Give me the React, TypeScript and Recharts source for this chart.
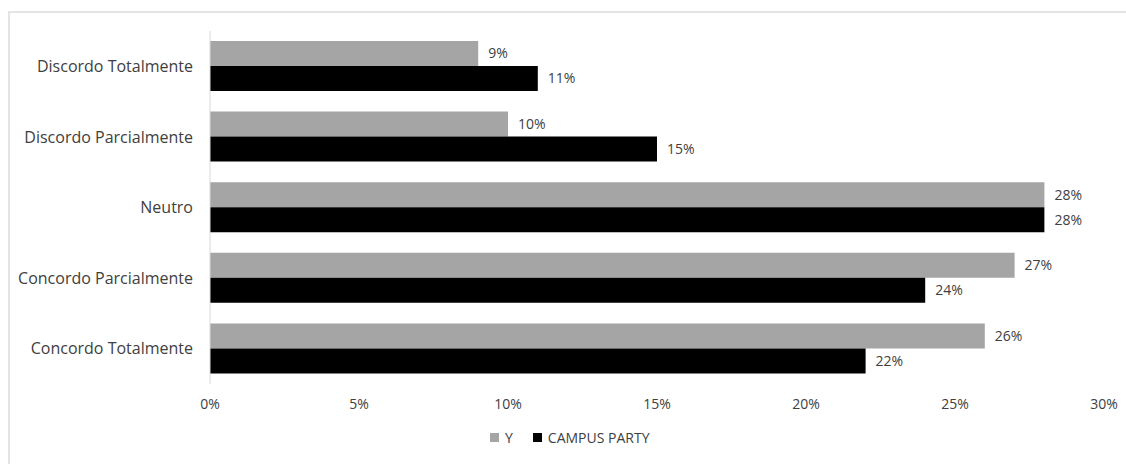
import React from "react";
import { BarChart, Bar, XAxis, YAxis, Legend, LabelList } from "recharts";

const categories = [
  "Discordo Totalmente",
  "Discordo Parcialmente",
  "Neutro",
  "Concordo Parcialmente",
  "Concordo Totalmente",
];
const yValues = [9, 10, 28, 27, 26];
const campusValues = [11, 15, 28, 24, 22];
const xTicks = [0, 5, 10, 15, 20, 25, 30];
const seriesNames = ["Y", "CAMPUS PARTY"];
const seriesColors = ["#a5a5a5", "#000000"];

const data = categories.map((name, i) => ({
  name,
  y: yValues[i],
  campus: campusValues[i],
}));

const FONT = "'Open Sans', sans-serif";
const TEXT = "#404040";

const renderLegend = () => {
  return (
    <div style={{ display: "flex", alignItems: "center", fontFamily: FONT, fontSize: 14, color: TEXT }}>
      {seriesNames.map((name, i) => (
        <div key={i} style={{ display: "flex", alignItems: "center", marginRight: 20 }}>
          <span style={{ display: "inline-block", width: 9, height: 9, background: seriesColors[i], marginRight: 6 }} />
          <span>{name}</span>
        </div>
      ))}
    </div>
  );
};

export default function App() {
  return (
    <div
      style={{
        position: "fixed",
        top: 11,
        left: 8,
        width: 1140,
        height: 470,
        borderTop: "2px solid #e4e4e4",
        borderLeft: "2px solid #e4e4e4",
        boxSizing: "border-box",
        background: "#fff",
        overflow: "hidden",
      }}
    >
      <BarChart
        width={1116}
        height={443}
        data={data}
        layout="vertical"
        margin={{ top: 18, right: 22, bottom: 42, left: 0 }}
        barGap={0}
        barSize={25}
      >
        <XAxis
          type="number"
          domain={[0, 30]}
          ticks={xTicks}
          tickFormatter={(v: number) => `${v}%`}
          axisLine={false}
          tickLine={false}
          tickSize={0}
          tickMargin={15}
          height={30}
          interval={0}
          tick={{ fill: TEXT, fontSize: 14, fontFamily: FONT }}
        />
        <YAxis
          type="category"
          dataKey="name"
          width={200}
          axisLine={{ stroke: "#d9d9d9" }}
          tickLine={false}
          tickSize={0}
          tickMargin={17}
          interval={0}
          tick={{ fill: TEXT, fontSize: 16, fontFamily: FONT }}
        />
        <Legend
          layout="horizontal"
          verticalAlign="middle"
          align="center"
          content={renderLegend}
          wrapperStyle={{ top: 415, left: 480, width: 300, height: 20 }}
        />
        <Bar dataKey="y" name={seriesNames[0]} fill={seriesColors[0]} isAnimationActive={false}>
          <LabelList
            dataKey="y"
            position="right"
            offset={10}
            formatter={(v: any) => `${v}%`}
            style={{ fill: TEXT, fontSize: 14, fontFamily: FONT }}
          />
        </Bar>
        <Bar dataKey="campus" name={seriesNames[1]} fill={seriesColors[1]} isAnimationActive={false}>
          <LabelList
            dataKey="campus"
            position="right"
            offset={10}
            formatter={(v: any) => `${v}%`}
            style={{ fill: TEXT, fontSize: 14, fontFamily: FONT }}
          />
        </Bar>
      </BarChart>
    </div>
  );
}
